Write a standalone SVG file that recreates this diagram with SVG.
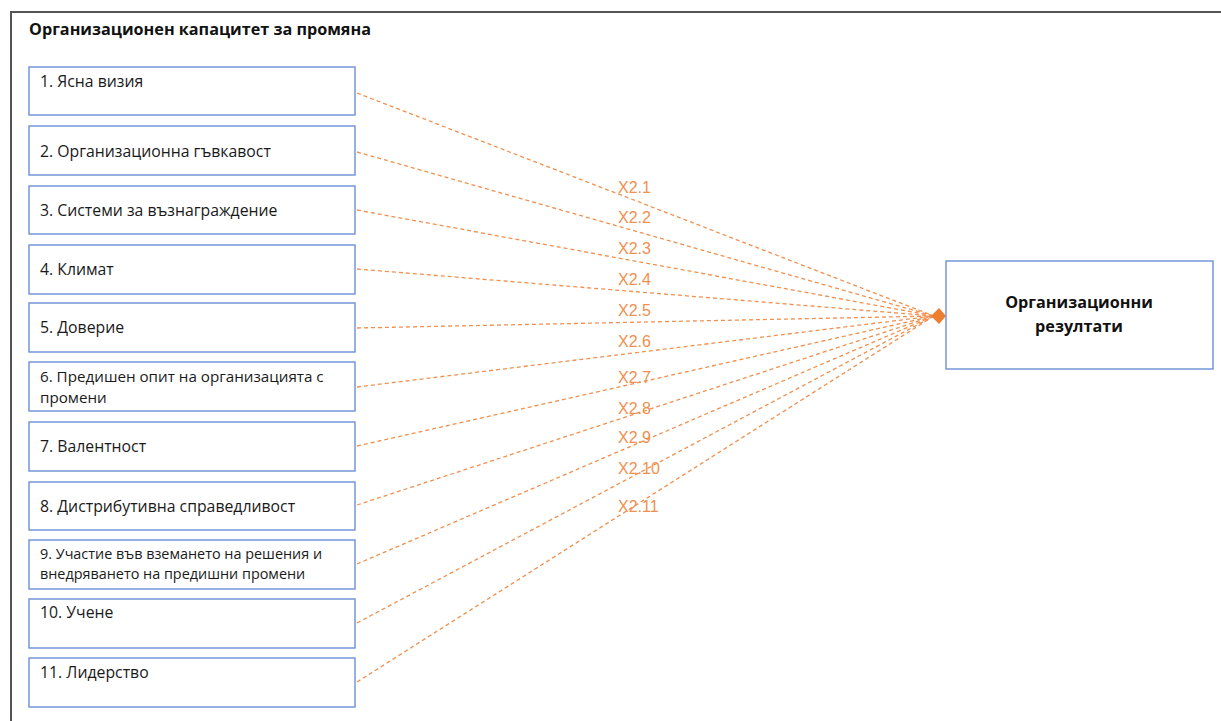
<svg xmlns="http://www.w3.org/2000/svg" width="1221" height="721" viewBox="0 0 1221 721">
<style>
.node rect{fill:#fff;stroke:#6a8fd8;stroke-width:1.4}
.t{font-family:"Open Sans","Liberation Sans",sans-serif;font-size:15.8px;fill:#1a1a1a}
.tm{font-family:"Open Sans","Liberation Sans",sans-serif;font-size:15.2px;fill:#1a1a1a}
.ts{font-family:"Open Sans","Liberation Sans",sans-serif;font-size:14.4px;fill:#1a1a1a}
.b{font-family:"Open Sans","Liberation Sans",sans-serif;font-size:16.2px;font-weight:bold;fill:#111}
.c line{stroke:#f0904f;stroke-width:1.3;stroke-dasharray:4 3;fill:none}
.lbl{font-family:"Liberation Sans","Open Sans",sans-serif;font-size:16px;fill:#f0904f}
</style>
<rect x="0" y="0" width="1221" height="721" fill="#fff"/>
<rect id="frame" x="11" y="12" width="1230" height="730" fill="none" stroke="#555" stroke-width="2"/>
<text class="b" x="29" y="35">Организационен капацитет за промяна</text>
<g class="c" id="connectors">
<line x1="357" y1="93" x2="934" y2="316"/>
<line x1="357" y1="152" x2="934" y2="316"/>
<line x1="357" y1="210" x2="934" y2="316"/>
<line x1="357" y1="269" x2="934" y2="316"/>
<line x1="357" y1="328" x2="934" y2="316"/>
<line x1="357" y1="387" x2="934" y2="316"/>
<line x1="357" y1="446" x2="934" y2="316"/>
<line x1="357" y1="505" x2="934" y2="316"/>
<line x1="357" y1="564" x2="934" y2="316"/>
<line x1="357" y1="623" x2="934" y2="316"/>
<line x1="357" y1="682" x2="934" y2="316"/>
<polygon points="931,316 939,308 946,316 939,324" fill="#ed7d31" stroke="none"/>
<text class="lbl" x="618" y="193">X2.1</text>
<text class="lbl" x="618" y="223">X2.2</text>
<text class="lbl" x="618" y="254">X2.3</text>
<text class="lbl" x="618" y="285">X2.4</text>
<text class="lbl" x="618" y="316">X2.5</text>
<text class="lbl" x="618" y="347">X2.6</text>
<text class="lbl" x="618" y="383">X2.7</text>
<text class="lbl" x="618" y="414">X2.8</text>
<text class="lbl" x="618" y="443">X2.9</text>
<text class="lbl" x="618" y="474">X2.10</text>
<text class="lbl" x="618" y="512">X2.11</text>
</g>
<g class="node" id="n1"><rect x="29" y="67" width="326" height="48"/><text class="t" x="40" y="87">1. Ясна визия</text></g>
<g class="node" id="n2"><rect x="29" y="126" width="326" height="49"/><text class="t" x="40" y="157">2. Организационна гъвкавост</text></g>
<g class="node" id="n3"><rect x="29" y="186" width="326" height="48"/><text class="t" x="40" y="216">3. Системи за възнаграждение</text></g>
<g class="node" id="n4"><rect x="29" y="245" width="326" height="49"/><text class="t" x="40" y="275">4. Климат</text></g>
<g class="node" id="n5"><rect x="29" y="303" width="326" height="49"/><text class="t" x="40" y="333">5. Доверие</text></g>
<g class="node" id="n6"><rect x="29" y="362" width="326" height="49"/><text class="tm" x="40" y="382">6. Предишен опит на организацията с</text><text class="tm" x="40" y="403">промени</text></g>
<g class="node" id="n7"><rect x="29" y="422" width="326" height="49"/><text class="t" x="40" y="452">7. Валентност</text></g>
<g class="node" id="n8"><rect x="29" y="482" width="326" height="48"/><text class="t" x="40" y="512">8. Дистрибутивна справедливост</text></g>
<g class="node" id="n9"><rect x="29" y="540" width="326" height="49"/><text class="ts" x="40" y="559">9. Участие във вземането на решения и</text><text class="ts" x="40" y="579">внедряването на предишни промени</text></g>
<g class="node" id="n10"><rect x="29" y="599" width="326" height="49"/><text class="t" x="40" y="618">10. Учене</text></g>
<g class="node" id="n11"><rect x="29" y="658" width="326" height="49"/><text class="t" x="40" y="678">11. Лидерство</text></g>
<g class="node" id="out"><rect x="946" y="261" width="267" height="108"/><text class="b" x="1079" y="308" text-anchor="middle">Организационни</text><text class="b" x="1079" y="332" text-anchor="middle">резултати</text></g>
</svg>
